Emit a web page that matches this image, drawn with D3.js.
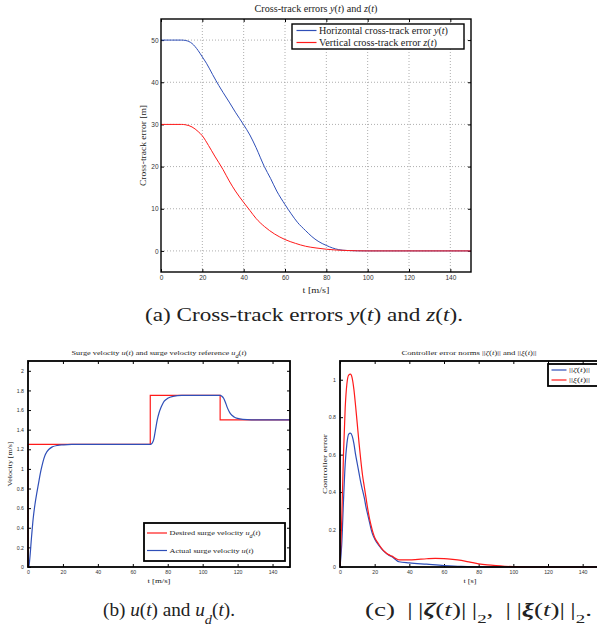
<!DOCTYPE html>
<html>
<head>
<meta charset="utf-8">
<script src="https://cdn.jsdelivr.net/npm/d3@7"></script>
<style>
  body { margin: 0; background: #fff; }
  svg { display: block; }
  .tick text { font-family: "Liberation Sans", Arial, sans-serif; fill: #333; }
  .serif { font-family: "Liberation Serif", "Times New Roman", serif; fill: #222; }
</style>
</head>
<body>
<svg id="fig" width="597" height="627"></svg>
<script>
// ---- data ----
// (a) cross-track errors
var trackT = [0, 5, 10, 12, 15, 18, 20, 22, 25, 28, 30, 33, 36, 40, 43, 46, 50, 53, 56, 60, 63, 66, 70, 73, 76, 80, 83, 86, 90, 95, 100, 150];
var yErr   = [50, 50, 50, 49.9, 49.2, 47.5, 46, 44.5, 41.8, 39.2, 37.6, 35.3, 32.9, 29.9, 27.5, 24.5, 20, 17.2, 14.2, 11, 8.8, 6.8, 4.8, 3.4, 2.3, 1.3, 0.7, 0.3, 0.1, 0.02, 0, 0];
var zT     = [0, 10, 12, 15, 18, 20, 23, 26, 30, 33, 36, 40, 43, 46, 50, 55, 60, 65, 70, 75, 80, 85, 90, 100, 150];
var zErr   = [30, 30, 29.9, 29.4, 28.3, 27.3, 25, 22.5, 19.3, 16.6, 14.2, 11.5, 9.6, 7.7, 5.8, 4.0, 2.7, 1.8, 1.1, 0.7, 0.4, 0.2, 0.1, 0, 0];

// (b) surge velocity
var refT = [0, 0, 70, 110, 150];
var refU = [0, 1.25, 1.75, 1.5, 1.5];
var surgeT = [0, 0.5, 1, 2, 3, 4, 5, 6, 7, 8, 9, 10, 12, 14, 17, 20, 25, 69, 70, 71, 72, 73, 74, 75, 76, 77, 78, 80, 83, 88,
              110, 111, 112, 113, 114, 115, 116, 118, 120, 123, 128, 150];
var surgeU = [0, 0, 0.08, 0.3, 0.5, 0.64, 0.75, 0.85, 0.95, 1.03, 1.1, 1.15, 1.2, 1.225, 1.24, 1.245, 1.25, 1.25, 1.25, 1.26, 1.3, 1.4, 1.5, 1.57, 1.62, 1.66, 1.69, 1.72, 1.74, 1.75,
              1.75, 1.74, 1.72, 1.68, 1.63, 1.59, 1.56, 1.53, 1.515, 1.505, 1.5, 1.5];

// (c) controller error norms
var zetaT = [0, 1, 2, 3, 4, 5, 6, 7, 8, 9, 10, 11, 12, 13, 14, 15, 16, 17, 18, 19, 20, 22, 24, 26, 28, 30, 32, 34, 40, 50, 60, 70, 80, 90, 150];
var zetaN = [0, 0.12, 0.35, 0.55, 0.66, 0.71, 0.715, 0.7, 0.66, 0.6, 0.55, 0.5, 0.45, 0.41, 0.37, 0.32, 0.28, 0.24, 0.2, 0.17, 0.15, 0.12, 0.097, 0.078, 0.064, 0.055, 0.04, 0.028, 0.022, 0.015, 0.008, 0.003, 0.001, 0, 0];
var xiT = [0, 1, 2, 3, 4, 5, 6, 7, 8, 9, 10, 11, 12, 13, 14, 15, 16, 17, 18, 19, 20, 22, 24, 26, 28, 30, 32, 34, 40, 45, 50, 55, 60, 65, 70, 75, 80, 85, 90, 95, 100, 110, 150];
var xiN = [0, 0.25, 0.6, 0.85, 0.98, 1.025, 1.03, 1.01, 0.95, 0.86, 0.76, 0.66, 0.57, 0.49, 0.43, 0.37, 0.31, 0.26, 0.22, 0.185, 0.158, 0.127, 0.1, 0.08, 0.066, 0.058, 0.046, 0.038, 0.038, 0.041, 0.044, 0.046, 0.045, 0.041, 0.035, 0.026, 0.017, 0.011, 0.007, 0.004, 0.002, 0, 0];

var xTicks = [0, 20, 40, 60, 80, 100, 120, 140];
var trackYTicks = [0, 10, 20, 30, 40, 50];
var surgeYTicks = [0, 0.2, 0.4, 0.6, 0.8, 1, 1.2, 1.4, 1.6, 1.8, 2];
var normYTicks = [0, 0.2, 0.4, 0.6, 0.8, 1];

var BLUE = "#2f4fb8", RED = "#ff1a1a";
var svg = d3.select("#fig");

function zip(a, b) { return a.map(function (v, i) { return [v, b[i]]; }); }

// writes a label made of [text, style] pieces, style: "i" italic, "b" bold italic, "sub" subscript, "sub2" upright subscript
function richText(sel, parts, len) {
  parts.forEach(function (p) {
    var ts = sel.append("tspan").text(p[0]);
    if (p[1] == "i") ts.attr("font-style", "italic");
    if (p[1] == "b") ts.attr("font-style", "italic").attr("font-weight", "bold");
    if (p[1] == "sub") ts.attr("font-style", "italic").attr("baseline-shift", "sub").attr("font-size", "75%");
    if (p[1] == "sub2") ts.attr("baseline-shift", "sub").attr("font-size", "70%");
  });
  //TeX text is wider than Liberation Serif, so fit it to the measured width
  if (len) sel.attr("textLength", len).attr("lengthAdjust", "spacingAndGlyphs");
  return sel;
}

/**
* Draws one MATLAB style panel: box, inward ticks on all sides, optional dotted grid
*/
function panel(o) {
  var g = svg.append("g");
  var x = d3.scaleLinear().domain(o.xDomain).range([o.left, o.right]);
  var y = d3.scaleLinear().domain(o.yDomain).range([o.bottom, o.top]);

  if (o.grid) {
    g.selectAll(".gx").data(xTicks.filter(function (d) { return d > 0; })).join("line")
      .attr("x1", x).attr("x2", x).attr("y1", o.top).attr("y2", o.bottom)
      .attr("stroke", "#999").attr("stroke-width", 0.8).attr("stroke-dasharray", "1,2");
    g.selectAll(".gy").data(o.yTicks).join("line")
      .attr("x1", o.left).attr("x2", o.right).attr("y1", y).attr("y2", y)
      .attr("stroke", "#999").attr("stroke-width", 0.8).attr("stroke-dasharray", "1,2");
  }

  var fmt = function (d) { return String(+d.toFixed(2)); };
  var tl = 3;
  g.append("g").attr("transform", "translate(0," + o.bottom + ")")
    .call(d3.axisBottom(x).tickValues(xTicks).tickSize(-tl).tickPadding(o.padX).tickFormat(fmt))
    .call(function (a) { a.select(".domain").remove(); a.selectAll("text").attr("font-size", o.tickFont); });
  g.append("g").attr("transform", "translate(0," + o.top + ")")
    .call(d3.axisTop(x).tickValues(xTicks).tickSize(-tl).tickFormat(""))
    .call(function (a) { a.select(".domain").remove(); });
  g.append("g").attr("transform", "translate(" + o.left + ",0)")
    .call(d3.axisLeft(y).tickValues(o.yTicks).tickSize(-tl).tickPadding(o.padY).tickFormat(fmt))
    .call(function (a) { a.select(".domain").remove(); a.selectAll("text").attr("font-size", o.tickFont); });
  g.append("g").attr("transform", "translate(" + o.right + ",0)")
    .call(d3.axisRight(y).tickValues(o.yTicks).tickSize(-tl).tickFormat(""))
    .call(function (a) { a.select(".domain").remove(); });

  var line = d3.line().x(function (d) { return x(d[0]); }).y(function (d) { return y(d[1]); });
  o.series.forEach(function (s) {
    if (s.step) line.curve(d3.curveStepAfter); else line.curve(d3.curveMonotoneX);
    g.append("path").datum(s.data).attr("d", line)
      .attr("fill", "none").attr("stroke", s.color).attr("stroke-width", s.width);
  });

  g.append("rect").attr("x", o.left).attr("y", o.top)
    .attr("width", o.right - o.left).attr("height", o.bottom - o.top)
    .attr("fill", "none").attr("stroke", "#000").attr("stroke-width", o.frame);

  var cx = (o.left + o.right) / 2;
  richText(g.append("text").attr("class", "serif").attr("x", (o.titleX || cx) - o.titleLen / 2).attr("y", o.titleY)
    .attr("font-size", o.titleFont), o.title, o.titleLen);
  richText(g.append("text").attr("class", "serif").attr("x", cx - o.xLabelLen / 2).attr("y", o.xLabelY)
    .attr("font-size", o.labelFont), [[o.xLabel]], o.xLabelLen);
  richText(g.append("text").attr("class", "serif")
    .attr("transform", "translate(" + o.yLabelX + "," + ((o.top + o.bottom) / 2 + o.yLabelLen / 2) + ") rotate(-90)")
    .attr("font-size", o.labelFont), [[o.yLabel]], o.yLabelLen);

  // legend
  var L = o.legend;
  g.append("rect").attr("x", L.x).attr("y", L.y).attr("width", L.w).attr("height", L.h)
    .attr("fill", "#fff").attr("stroke", "#000").attr("stroke-width", o.frame);
  L.items.forEach(function (it, i) {
    var yy = L.y + L.first + i * L.gap;
    g.append("line").attr("x1", L.x + L.pad).attr("x2", L.x + L.pad + L.len)
      .attr("y1", yy).attr("y2", yy).attr("stroke", it.color).attr("stroke-width", 1.2);
    richText(g.append("text").attr("class", "serif").attr("x", L.x + L.pad + L.len + 2.5).attr("y", yy)
      .attr("dy", "0.35em").attr("font-size", L.font), it.label, it.len);
  });
  return g;
}

// (a)
panel({
  left: 161, right: 471, top: 19, bottom: 272,
  xDomain: [0, 150], yDomain: [-5, 55], yTicks: trackYTicks, grid: true,
  tickFont: 6.5, padX: 3, padY: 2.5, titleFont: 9.5, labelFont: 8.5, frame: 1.4,
  title: [["Cross-track errors "], ["y", "i"], ["("], ["t", "i"], [") and "], ["z", "i"], ["("], ["t", "i"], [")"]],
  titleLen: 123, titleY: 12,
  xLabel: "t [m/s]", xLabelLen: 27, xLabelY: 293,
  yLabel: "Cross-track error [m]", yLabelLen: 81, yLabelX: 146,
  series: [
    { data: zip(trackT, yErr), color: BLUE, width: 1 },
    { data: zip(zT, zErr), color: RED, width: 1 }
  ],
  legend: { x: 292, y: 24, w: 172, h: 25, pad: 4.5, len: 20, first: 6.5, gap: 12, font: 10,
    items: [
      { color: BLUE, len: 129, label: [["Horizontal cross-track error "], ["y", "i"], ["("], ["t", "i"], [")"]] },
      { color: RED, len: 118, label: [["Vertical cross-track error "], ["z", "i"], ["("], ["t", "i"], [")"]] }
    ] }
});

// (b)
panel({
  left: 28, right: 290, top: 361, bottom: 567,
  xDomain: [0, 150], yDomain: [0, 2.1], yTicks: surgeYTicks, grid: false,
  tickFont: 5.2, padX: 3.5, padY: 4, titleFont: 7, labelFont: 7, frame: 1.8,
  title: [["Surge velocity "], ["u", "i"], ["("], ["t", "i"], [") and surge velocity reference "], ["u", "i"], ["d", "sub"], ["("], ["t", "i"], [")"]],
  titleLen: 175, titleY: 355,
  xLabel: "t [m/s]", xLabelLen: 23, xLabelY: 583,
  yLabel: "Velocity [m/s]", yLabelLen: 45, yLabelX: 12,
  series: [
    { data: zip(refT, refU), color: RED, width: 1.2, step: true },
    { data: zip(surgeT, surgeU), color: BLUE, width: 1.2 }
  ],
  legend: { x: 144, y: 523, w: 141, h: 38, pad: 3, len: 20, first: 10, gap: 17.5, font: 7,
    items: [
      { color: RED, len: 91, label: [["Desired surge velocity "], ["u", "i"], ["d", "sub"], ["("], ["t", "i"], [")"]] },
      { color: BLUE, len: 84, label: [["Actual surge velocity "], ["u", "i"], ["("], ["t", "i"], [")"]] }
    ] }
});

// (c)
panel({
  left: 340, right: 600, top: 361, bottom: 567,
  xDomain: [0, 150], yDomain: [0, 1.1], yTicks: normYTicks, grid: false,
  tickFont: 5.2, padX: 3.5, padY: 4, titleFont: 7, labelFont: 7, frame: 1.8,
  title: [["Controller error norms ||"], ["ζ", "i"], ["("], ["t", "i"], [")|| and ||"], ["ξ", "i"], ["("], ["t", "i"], [")||"]],
  titleLen: 135, titleY: 355, titleX: 469,
  xLabel: "t [s]", xLabelLen: 13, xLabelY: 583,
  yLabel: "Controller error", yLabelLen: 60, yLabelX: 327,
  series: [
    { data: zip(zetaT, zetaN), color: BLUE, width: 1.2 },
    { data: zip(xiT, xiN), color: RED, width: 1.2 }
  ],
  legend: { x: 548, y: 364, w: 50, h: 22, pad: 3.5, len: 15, first: 6, gap: 10, font: 7,
    items: [
      { color: BLUE, len: 21, label: [["||"], ["ζ", "i"], ["("], ["t", "i"], [")||"]] },
      { color: RED, len: 21, label: [["||"], ["ξ", "i"], ["("], ["t", "i"], [")||"]] }
    ] }
});

// sub-figure captions
var thin = "\u2009";
richText(svg.append("text").attr("class", "serif").attr("x", 145).attr("y", 321).attr("font-size", 18),
  [["(a) Cross-track errors "], ["y", "i"], ["("], ["t", "i"], [") and "], ["z", "i"], ["("], ["t", "i"], [")."]], 318);
richText(svg.append("text").attr("class", "serif").attr("x", 103).attr("y", 616).attr("font-size", 18),
  [["(b) "], ["u", "i"], ["("], ["t", "i"], [") and "], ["u", "i"], ["d", "sub"], ["("], ["t", "i"], [")."]], 132);
richText(svg.append("text").attr("class", "serif").attr("x", 365).attr("y", 616).attr("font-size", 18),
  [["(c) " + thin + "|" + thin + "|"], ["ζ", "b"], ["("], ["t", "i"], [")|" + thin + "|"], ["2", "sub2"], [", " + thin + "|" + thin + "|"],
   ["ξ", "b"], ["("], ["t", "i"], [")|" + thin + "|"], ["2", "sub2"], ["."]], 227);
</script>
</body>
</html>
